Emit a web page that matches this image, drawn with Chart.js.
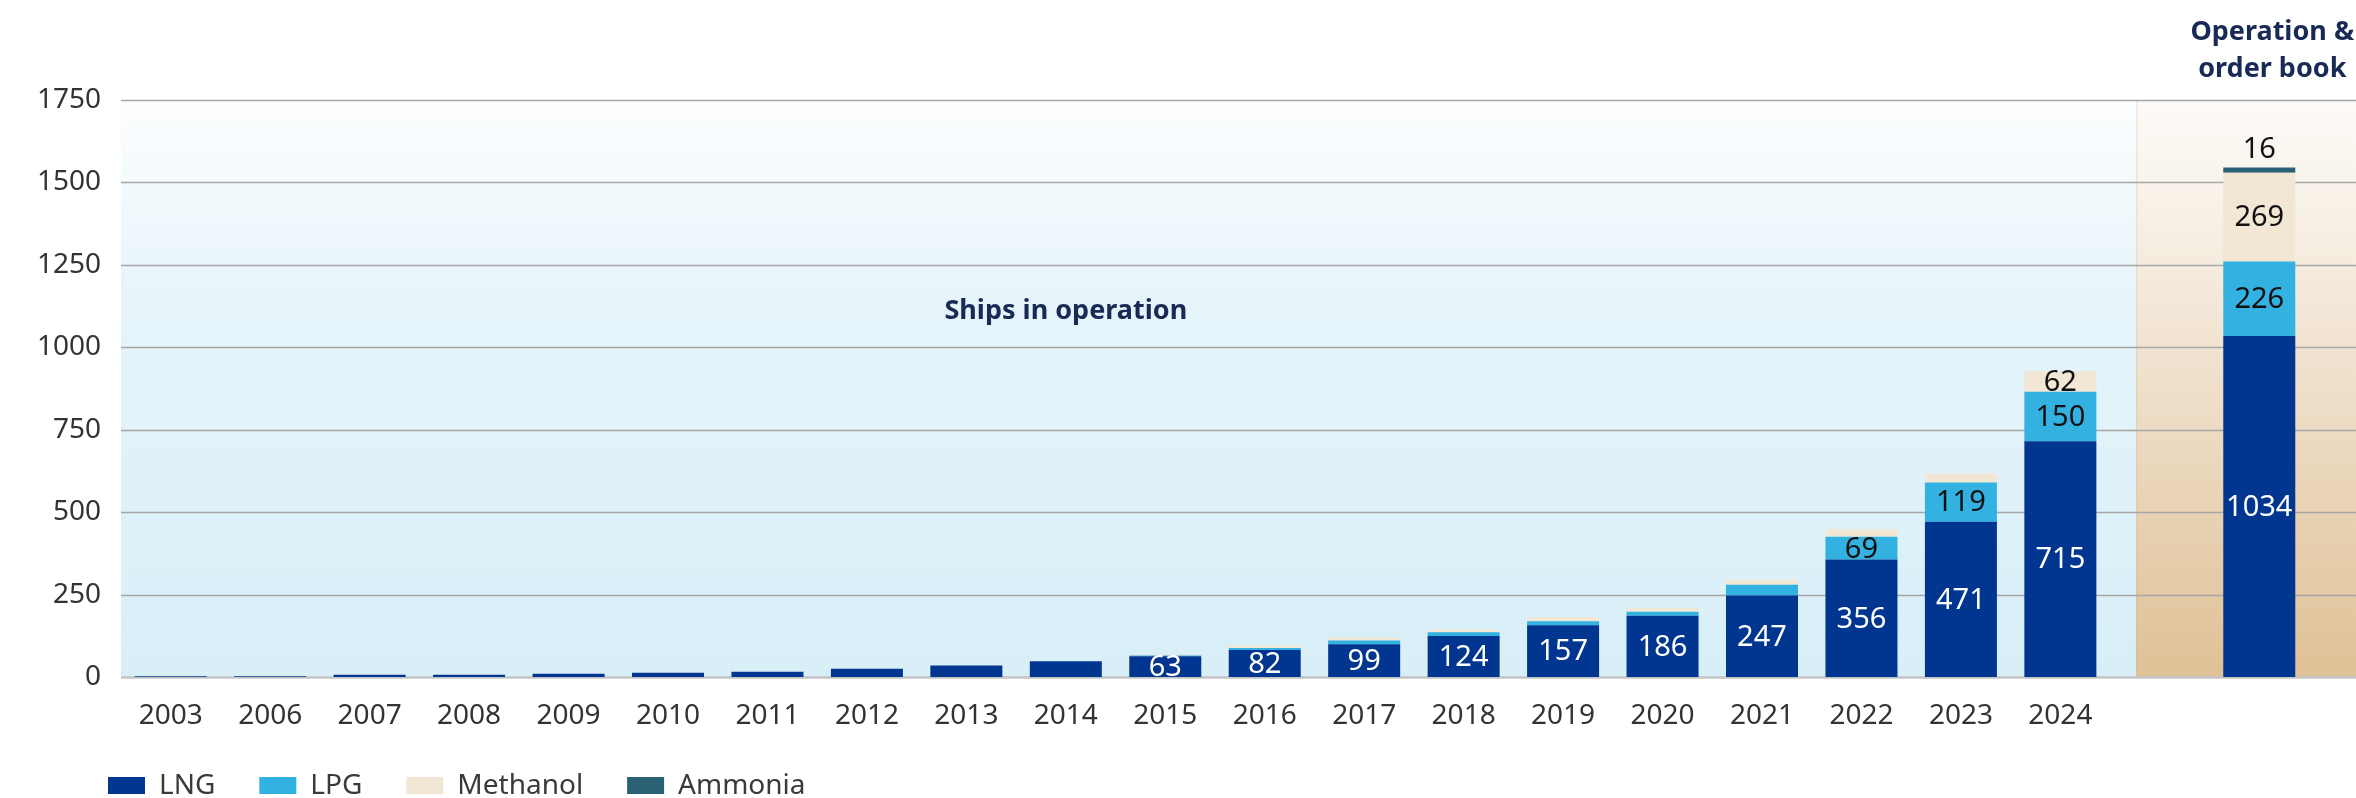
<!DOCTYPE html>
<html>
<head>
<meta charset="utf-8">
<script src="https://cdn.jsdelivr.net/npm/chart.js@4.4.1/dist/chart.umd.min.js"></script>
<style>
  html, body { margin: 0; padding: 0; background: #fff; }
  #wrap { width: 2356px; height: 798px; }
</style>
</head>
<body>
<div id="wrap"><canvas id="ships" width="2356" height="798"></canvas></div>
<script>
// categories: 20 years in operation, an empty gap, then operation & order book
const years = ["2003", "2006", "2007", "2008", "2009", "2010", "2011", "2012", "2013", "2014",
  "2015", "2016", "2017", "2018", "2019", "2020", "2021", "2022", "2023", "2024", "", ""];

const lng      = [2, 2, 7, 7, 10, 13, 16, 25, 35, 48, 63, 82, 99, 124, 157, 186, 247, 356, 471, 715, null, 1034];
const lpg      = [0, 0, 0, 0, 0, 0, 0, 0, 0, 0, 2, 6, 12, 12, 12, 12, 33, 69, 119, 150, null, 226];
const methanol = [0, 0, 0, 0, 0, 0, 0, 0, 0, 0, 3, 7, 7, 7, 12, 12, 15, 23, 27, 62, null, 269];
const ammonia  = [0, 0, 0, 0, 0, 0, 0, 0, 0, 0, 0, 0, 0, 0, 0, 0, 0, 0, 0, 0, null, 16];

const yTicks = [0, 250, 500, 750, 1000, 1250, 1500, 1750];

const colors = {
  lng: "#00368f",
  lpg: "#33b1e0",
  methanol: "#f2e6d5",
  ammonia: "#2b6174",
  navy: "#192a56",
  text: "#333333",
  grid: "#a6a6a6"
};

Chart.defaults.font.family = "'Noto Sans', sans-serif";

// backgrounds for the two zones and the horizontal gridlines (run to the right edge)
const backdrop = {
  id: "backdrop",
  beforeDraw(chart) {
    const { ctx, chartArea: area, scales: { x, y } } = chart;
    const step = x.getPixelForValue(1) - x.getPixelForValue(0);
    const split = x.getPixelForValue(19) + step * 0.76;
    const h = area.bottom - area.top;
    ctx.save();

    let g = ctx.createLinearGradient(0, area.top, 0, area.bottom);
    g.addColorStop(0, "#fdfeff");
    g.addColorStop(0.35, "#e6f4fa");
    g.addColorStop(1, "#d8eff8");
    ctx.fillStyle = g;
    ctx.fillRect(area.left, area.top, split - area.left, h);

    g = ctx.createLinearGradient(0, area.top, 0, area.bottom);
    g.addColorStop(0, "#fdfbf8");
    g.addColorStop(0.4, "#f2e5d4");
    g.addColorStop(1, "#dfc196");
    ctx.fillStyle = g;
    ctx.fillRect(split, area.top, chart.width - split, h);

    ctx.fillStyle = "rgba(200,180,150,0.25)";
    ctx.fillRect(split, area.top, 1.5, h);

    yTicks.forEach(v => {
      const py = Math.round(y.getPixelForValue(v)) + 0.5;
      ctx.beginPath();
      ctx.strokeStyle = v === 0 ? "#c4c4c4" : colors.grid;
      ctx.lineWidth = v === 0 ? 2.5 : 1.5;
      ctx.moveTo(area.left, py);
      ctx.lineTo(chart.width, py);
      ctx.stroke();
    });
    ctx.restore();
  }
};

// numbers on the segments, ammonia above the stack
const valueLabels = {
  id: "valueLabels",
  afterDatasetsDraw(chart) {
    const ctx = chart.ctx;
    ctx.save();
    ctx.font = "29px 'Noto Sans'";
    ctx.textAlign = "center";
    ctx.textBaseline = "middle";
    chart.data.datasets.forEach((ds, di) => {
      const meta = chart.getDatasetMeta(di);
      meta.data.forEach((bar, i) => {
        const v = ds.data[i];
        if (!v) return;
        if (di === 3) {
          ctx.fillStyle = "#111";
          ctx.fillText(v, bar.x, bar.y - 18);
          return;
        }
        if (v < 60) return;
        ctx.fillStyle = di === 0 ? "#ffffff" : "#111111";
        ctx.fillText(v, bar.x, (bar.y + bar.base) / 2 + 1);
      });
    });
    ctx.restore();
  }
};

// zone captions and legend row
const captions = {
  id: "captions",
  afterDraw(chart) {
    const { ctx, scales: { x, y } } = chart;
    ctx.save();
    ctx.fillStyle = colors.navy;
    ctx.textAlign = "center";
    ctx.textBaseline = "middle";
    ctx.font = "bold 27px 'Noto Sans'";
    ctx.fillText("Ships in operation", x.getPixelForValue(9), y.getPixelForValue(1110));

    const cx = x.getPixelForValue(21) + 13;
    ctx.textBaseline = "alphabetic";
    ctx.fillText("Operation &", cx, 40);
    ctx.fillText("order book", cx, 77);

    ctx.font = "28px 'Noto Sans'";
    ctx.textAlign = "left";
    ctx.textBaseline = "middle";
    let lx = 108;
    const top = 777;
    chart.data.datasets.forEach(ds => {
      ctx.fillStyle = ds.backgroundColor;
      ctx.fillRect(lx, top, 37, 17);
      ctx.fillStyle = "#3a3a3a";
      ctx.fillText(ds.label, lx + 51, top + 9);
      lx += 51 + ctx.measureText(ds.label).width + 44;
    });
    ctx.restore();
  }
};

new Chart(document.getElementById("ships"), {
  type: "bar",
  data: {
    labels: years,
    datasets: [
      { label: "LNG", data: lng, backgroundColor: colors.lng },
      { label: "LPG", data: lpg, backgroundColor: colors.lpg },
      { label: "Methanol", data: methanol, backgroundColor: colors.methanol },
      { label: "Ammonia", data: ammonia, backgroundColor: colors.ammonia }
    ]
  },
  options: {
    responsive: false,
    animation: false,
    devicePixelRatio: 1,
    layout: { padding: { top: 100, right: 47, left: 0, bottom: 0 } },
    datasets: { bar: { barPercentage: 0.724, categoryPercentage: 1, borderWidth: 0 } },
    plugins: { legend: { display: false }, tooltip: { enabled: false } },
    scales: {
      x: {
        stacked: true,
        grid: { display: false, drawTicks: false, tickLength: 0 },
        border: { display: false },
        ticks: { color: colors.text, font: { size: 28 }, padding: 22, autoSkip: false, maxRotation: 0 },
        afterFit(scale) { scale.height = 121; }
      },
      y: {
        stacked: true,
        min: 0,
        max: 1750,
        grid: { display: false, drawTicks: false, tickLength: 0 },
        border: { display: false },
        ticks: {
          stepSize: 250,
          color: colors.text,
          font: { size: 28 },
          padding: 20,
          callback: v => String(v)
        },
        afterFit(scale) { scale.width = 121; }
      }
    }
  },
  plugins: [backdrop, valueLabels, captions]
});
</script>
</body>
</html>
